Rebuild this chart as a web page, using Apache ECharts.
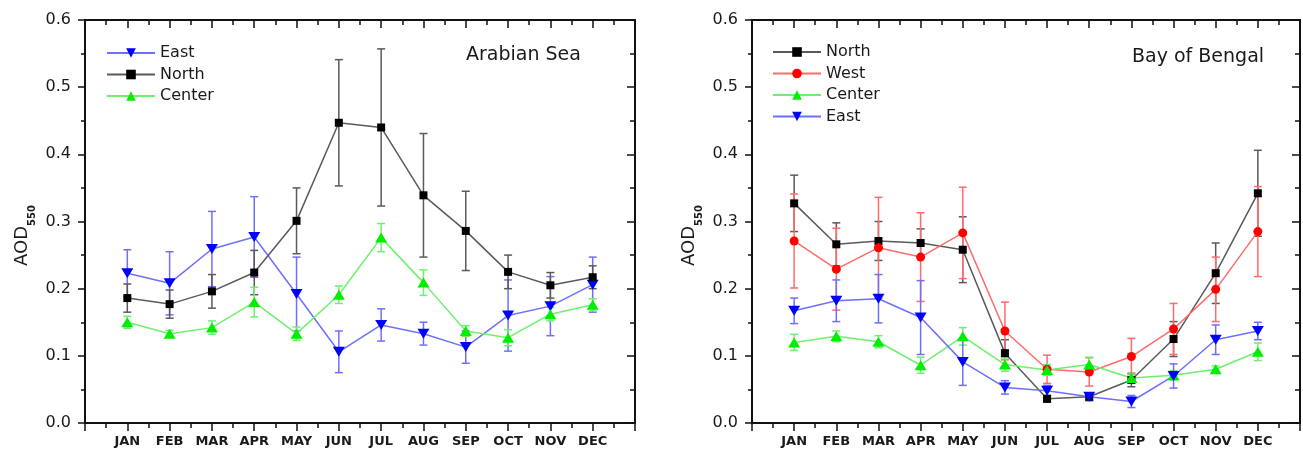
<!DOCTYPE html>
<html>
<head>
<meta charset="utf-8">
<script src="https://cdn.jsdelivr.net/npm/echarts@6/dist/echarts.min.js"></script>
<style>
  html, body { margin: 0; padding: 0; background: #fff; }
  #chart { width: 1303px; height: 450px; }
</style>
</head>
<body>
<div id="chart"></div>
<script>
// Month categories on the x axis (positions 1..12)
const months = ['JAN', 'FEB', 'MAR', 'APR', 'MAY', 'JUN', 'JUL', 'AUG', 'SEP', 'OCT', 'NOV', 'DEC'];

// Arabian Sea: monthly mean AOD550 and standard deviation
const arabianEast      = [0.223, 0.208, 0.259, 0.277, 0.192, 0.106, 0.146, 0.133, 0.113, 0.160, 0.174, 0.206];
const arabianEastErr   = [0.035, 0.047, 0.056, 0.060, 0.055, 0.031, 0.024, 0.017, 0.024, 0.053, 0.044, 0.041];
const arabianNorth     = [0.186, 0.177, 0.196, 0.224, 0.301, 0.447, 0.440, 0.339, 0.286, 0.225, 0.205, 0.217];
const arabianNorthErr  = [0.021, 0.021, 0.025, 0.033, 0.049, 0.094, 0.117, 0.092, 0.059, 0.025, 0.019, 0.017];
const arabianCenter    = [0.150, 0.133, 0.142, 0.180, 0.133, 0.191, 0.276, 0.209, 0.137, 0.127, 0.162, 0.176];
const arabianCenterErr = [0.009, 0.005, 0.010, 0.022, 0.010, 0.013, 0.021, 0.019, 0.008, 0.012, 0.010, 0.009];

// Bay of Bengal: monthly mean AOD550 and standard deviation
const bengalNorth     = [0.327, 0.266, 0.271, 0.268, 0.258, 0.104, 0.036, 0.039, 0.064, 0.125, 0.223, 0.342];
const bengalNorthErr  = [0.042, 0.032, 0.029, 0.021, 0.049, 0.020, 0.005, 0.005, 0.010, 0.026, 0.045, 0.064];
const bengalWest      = [0.271, 0.229, 0.261, 0.247, 0.283, 0.137, 0.080, 0.076, 0.099, 0.140, 0.199, 0.285];
const bengalWestErr   = [0.070, 0.061, 0.075, 0.066, 0.068, 0.043, 0.021, 0.021, 0.027, 0.038, 0.048, 0.067];
const bengalCenter    = [0.120, 0.129, 0.121, 0.086, 0.129, 0.087, 0.079, 0.087, 0.067, 0.071, 0.080, 0.106];
const bengalCenterErr = [0.012, 0.008, 0.009, 0.012, 0.013, 0.010, 0.008, 0.011, 0.006, 0.007, 0.005, 0.013];
const bengalEast      = [0.167, 0.182, 0.185, 0.157, 0.091, 0.053, 0.048, 0.039, 0.032, 0.070, 0.124, 0.137];
const bengalEastErr   = [0.019, 0.031, 0.036, 0.055, 0.035, 0.010, 0.008, 0.006, 0.009, 0.018, 0.022, 0.013];

// Panel titles and legend order
const panelTitles = ['Arabian Sea', 'Bay of Bengal'];
const arabianLegend = ['East', 'North', 'Center'];
const bengalLegend = ['North', 'West', 'Center', 'East'];

// Visual style of each region
const DOWN_TRIANGLE = 'path://M0,0 L12,0 L6,10.4 Z';
const regionStyle = {
  East:   { line: '#6f6fff', mark: '#0000ff', symbol: DOWN_TRIANGLE, size: [12, 10] },
  North:  { line: '#5a5a5a', mark: '#000000', symbol: 'rect',        size: [8, 8] },
  Center: { line: '#6ef06e', mark: '#00ee00', symbol: 'triangle',    size: [12, 10] },
  West:   { line: '#ff6b6b', mark: '#ff0000', symbol: 'circle',      size: [9, 9] }
};

const FONT = 'DejaVu Sans';
const INK = '#1a1a1a';

const series = [];

function addRegion(panel, name, values, errs) {
  const st = regionStyle[name];
  const axisIdx = panel * 2;
  // error bars with caps
  series.push({
    type: 'custom',
    name: name + ' σ',
    xAxisIndex: axisIdx,
    yAxisIndex: axisIdx,
    silent: true,
    z: 2,
    encode: { x: 0, y: 1 },
    data: values.map((v, i) => [i + 1, v, errs[i]]),
    renderItem: function (params, api) {
      const x = api.value(0), v = api.value(1), e = api.value(2);
      const hi = api.coord([x, v + e]);
      const lo = api.coord([x, v - e]);
      const w = 4;
      const s = { stroke: st.line, lineWidth: 1.5 };
      return {
        type: 'group',
        children: [
          { type: 'line', shape: { x1: hi[0], y1: hi[1], x2: lo[0], y2: lo[1] }, style: s },
          { type: 'line', shape: { x1: hi[0] - w, y1: hi[1], x2: hi[0] + w, y2: hi[1] }, style: s },
          { type: 'line', shape: { x1: lo[0] - w, y1: lo[1], x2: lo[0] + w, y2: lo[1] }, style: s }
        ]
      };
    }
  });
  // mean line with markers
  series.push({
    type: 'line',
    name: name,
    xAxisIndex: axisIdx,
    yAxisIndex: axisIdx,
    z: 3,
    data: values.map((v, i) => [i + 1, v]),
    symbol: st.symbol,
    symbolSize: st.size,
    showAllSymbol: true,
    lineStyle: { color: st.line, width: 1.5 },
    itemStyle: { color: st.mark, borderWidth: 0 },
    emphasis: { disabled: true }
  });
}

addRegion(0, 'East', arabianEast, arabianEastErr);
addRegion(0, 'North', arabianNorth, arabianNorthErr);
addRegion(0, 'Center', arabianCenter, arabianCenterErr);

addRegion(1, 'North', bengalNorth, bengalNorthErr);
addRegion(1, 'West', bengalWest, bengalWestErr);
addRegion(1, 'Center', bengalCenter, bengalCenterErr);
addRegion(1, 'East', bengalEast, bengalEastErr);

const frameLine = { show: true, onZero: false, lineStyle: { color: '#111', width: 2 } };
const tickLine = { color: '#111', width: 1.5 };

function xAxes(grid) {
  const base = {
    type: 'value', gridIndex: grid, min: 0, max: 13, interval: 1,
    axisLine: frameLine, splitLine: { show: false }
  };
  return [
    Object.assign({}, base, {
      position: 'bottom',
      axisTick: { show: true, length: 8, lineStyle: tickLine },
      minorTick: { show: true, splitNumber: 2, length: 5, lineStyle: tickLine },
      axisLabel: {
        margin: 12, fontSize: 13, fontWeight: 'bold', fontFamily: FONT, color: INK,
        formatter: v => months[v - 1] || ''
      }
    }),
    Object.assign({}, base, {
      position: 'top',
      axisTick: { show: true, inside: true, length: 8, lineStyle: tickLine },
      minorTick: { show: true, splitNumber: 2, length: 5, lineStyle: tickLine },
      axisLabel: { show: false }
    })
  ];
}

function yAxes(grid) {
  const base = {
    type: 'value', gridIndex: grid, min: 0, max: 0.6, interval: 0.1,
    axisLine: frameLine, splitLine: { show: false }
  };
  return [
    Object.assign({}, base, {
      position: 'left',
      axisTick: { show: true, length: 7, lineStyle: tickLine },
      minorTick: { show: true, splitNumber: 2, length: 4, lineStyle: tickLine },
      axisLabel: {
        margin: 14, fontSize: 16, fontFamily: FONT, color: INK,
        formatter: v => v.toFixed(1)
      },
      name: '{a|AOD}{s|550}',
      nameLocation: 'middle',
      nameRotate: 90,
      nameGap: 52,
      nameTextStyle: {
        padding: [0, 28, 0, 0],
        rich: {
          a: { fontSize: 18, fontFamily: FONT, color: INK, lineHeight: 22 },
          s: { fontSize: 10, fontWeight: 'bold', fontFamily: FONT, color: INK,
               verticalAlign: 'bottom', lineHeight: 10, padding: [0, 0, -4, 0] }
        }
      }
    }),
    Object.assign({}, base, {
      position: 'right',
      axisTick: { show: true, inside: true, length: 8, lineStyle: tickLine },
      minorTick: { show: true, splitNumber: 2, length: 5, lineStyle: tickLine },
      axisLabel: { show: false }
    })
  ];
}

const legendCommon = {
  orient: 'vertical',
  itemWidth: 48,
  itemHeight: 12,
  itemGap: 5.5,
  padding: 0,
  selectedMode: false,
  textStyle: { fontSize: 16, lineHeight: 14, fontFamily: FONT, color: INK }
};

const option = {
  backgroundColor: '#ffffff',
  animation: false,
  title: [
    { text: panelTitles[0], left: 466, top: 46, padding: 0,
      textStyle: { fontSize: 19, fontWeight: 'normal', fontFamily: FONT, color: INK } },
    { text: panelTitles[1], left: 1132, top: 48, padding: 0,
      textStyle: { fontSize: 19, fontWeight: 'normal', fontFamily: FONT, color: INK } }
  ],
  legend: [
    Object.assign({}, legendCommon, { data: arabianLegend, left: 106, top: 45 }),
    Object.assign({}, legendCommon, { data: bengalLegend, left: 772, top: 44 })
  ],
  grid: [
    { left: 85, top: 20, width: 550, height: 403 },
    { left: 752, top: 20, width: 549, height: 403 }
  ],
  xAxis: xAxes(0).concat(xAxes(1)),
  yAxis: yAxes(0).concat(yAxes(1)),
  series: series
};

const chart = echarts.init(document.getElementById('chart'), null, { renderer: 'canvas' });
chart.setOption(option);
</script>
</body>
</html>
